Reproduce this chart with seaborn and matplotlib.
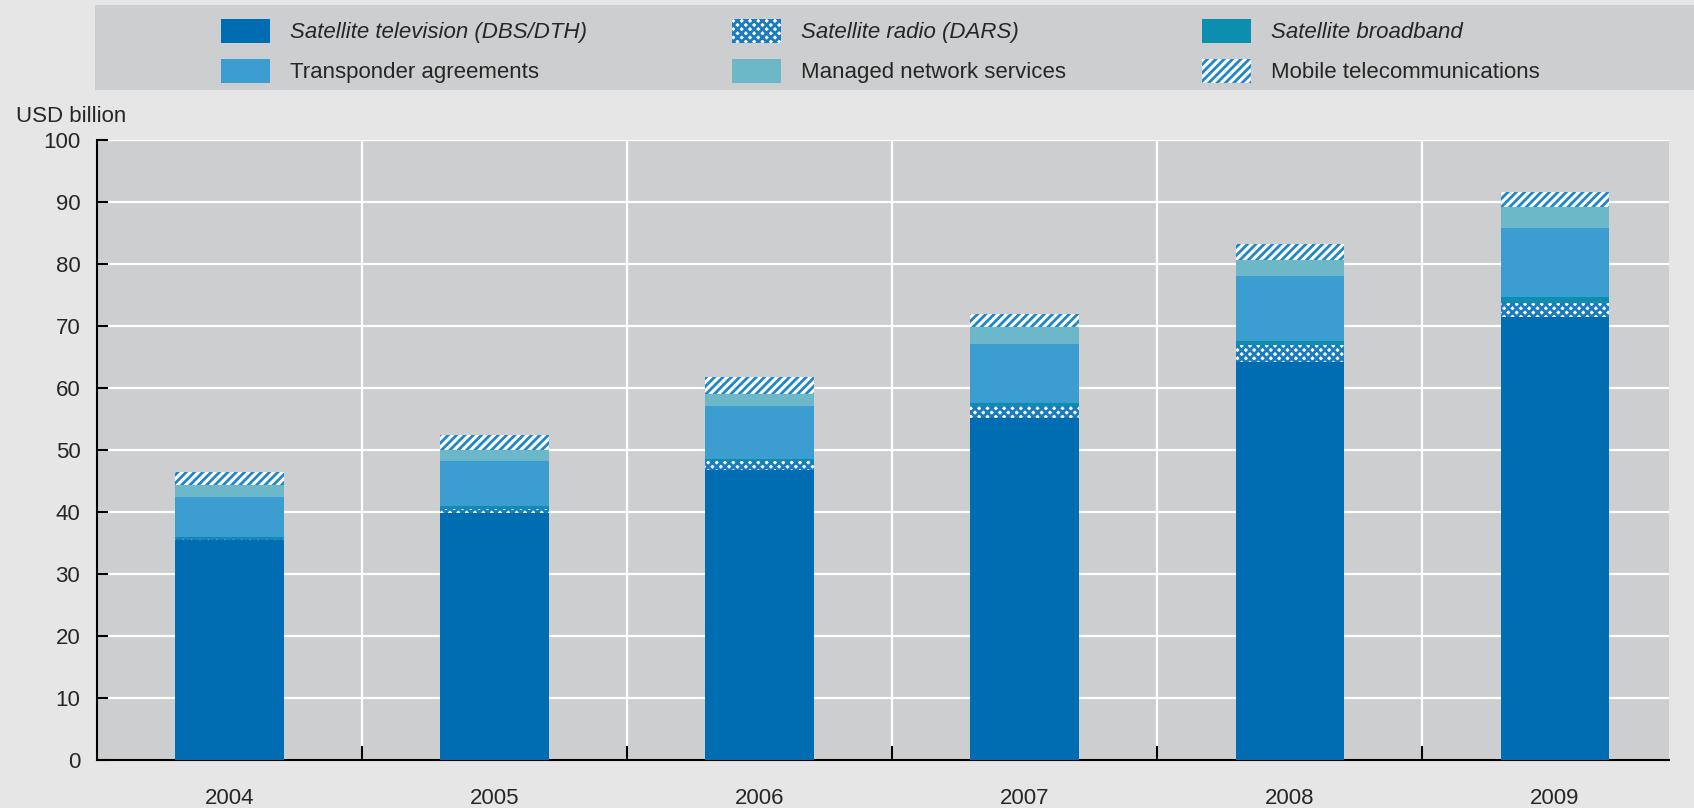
import matplotlib
matplotlib.use("Agg")
import matplotlib.pyplot as plt
from matplotlib.patches import Patch, Rectangle
import numpy as np
import pandas as pd
import seaborn as sns

# data (USD billion)
years = ["2004", "2005", "2006", "2007", "2008", "2009"]
sat_tv = [35.5, 39.8, 46.8, 55.2, 64.2, 71.5]
sat_radio = [0.1, 0.7, 1.5, 1.9, 2.7, 2.2]
sat_broadband = [0.3, 0.5, 0.3, 0.5, 0.7, 1.0]
transponder = [6.5, 7.2, 8.5, 9.5, 10.5, 11.1]
managed = [2.0, 1.8, 1.9, 2.7, 2.6, 3.4]
mobile = [2.1, 2.4, 2.8, 2.2, 2.5, 2.4]

labels = ["Satellite television (DBS/DTH)", "Satellite radio (DARS)", "Satellite broadband",
          "Transponder agreements", "Managed network services", "Mobile telecommunications"]

sns.set_theme(style="white")
plt.rcParams['font.family'] = ['Liberation Sans Narrow', 'Liberation Sans', 'DejaVu Sans']

df = pd.DataFrame({"year": years, "tv": sat_tv, "radio": sat_radio, "bb": sat_broadband,
                   "trans": transponder, "managed": managed, "mobile": mobile})
order = ["tv", "radio", "bb", "trans", "managed", "mobile"]
cum = df[order].cumsum(axis=1)

# style per series: (face, hatch, hatch colour)
styles = {
    "tv": ("#006db3", None, None),
    "radio": ("#ffffff", "xxxx", "#1a7cc0"),
    "bb": ("#0b8eb0", None, None),
    "trans": ("#3b9dd0", None, None),
    "managed": ("#6cb8c8", None, None),
    "mobile": ("#ffffff", "////", "#1f86c8"),
}

plt.rcParams['hatch.linewidth'] = 2.0
FS = 16

fig = plt.figure(figsize=(16.94, 8.08), dpi=100)
fig.patch.set_facecolor("#e6e6e6")
ax = fig.add_axes([97 / 1694, 1 - 760 / 808, (1669 - 97) / 1694, (760 - 140) / 808])
ax.set_facecolor("#cdcecf")

# draw cumulative totals from top to bottom so lower layers cover upper ones
for key in reversed(order):
    face, hatch, hcol = styles[key]
    sns.barplot(x=df["year"], y=cum[key], color=face, saturation=1, width=0.41,
                errorbar=None, ax=ax, hatch=hatch,
                edgecolor=hcol if hatch else face, linewidth=0, zorder=3)

ax.set_ylim(0, 100)
ax.set_yticks(np.arange(0, 101, 10))
ax.set_xlim(-0.5, 5.43)
ax.set_xticks(np.arange(0.5, 5, 1), minor=True)
ax.set_xlabel("")
ax.set_ylabel("")
ax.grid(True, axis="y", color="white", lw=1.6, zorder=0)
ax.grid(True, axis="x", which="minor", color="white", lw=1.6, zorder=0)
ax.set_axisbelow(True)
for s in ["top", "right"]:
    ax.spines[s].set_visible(False)
for s in ["left", "bottom"]:
    ax.spines[s].set_color("black")
    ax.spines[s].set_linewidth(1.5)
ax.tick_params(axis="y", direction="in", length=8, width=1.5, color="black",
               labelsize=FS, pad=12, left=True)
ax.tick_params(axis="x", which="major", length=0, labelsize=FS, pad=20)
ax.tick_params(axis="x", which="minor", direction="in", length=10, width=1.5,
               color="black", bottom=True)

fig.text(16 / 1694, 1 - 116 / 808, "USD billion", fontsize=FS, va="center", ha="left")

# legend background box
fig.patches.append(Rectangle((95 / 1694, 1 - 90 / 808), (1694 - 95) / 1694, 85 / 808,
                             transform=fig.transFigure, facecolor="#cdcecf",
                             edgecolor="none", zorder=0))

handles = []
for key, lab in zip(order, labels):
    face, hatch, hcol = styles[key]
    handles.append(Patch(facecolor=face, hatch=hatch,
                         edgecolor=hcol if hatch else face, linewidth=0, label=lab))

# three legend columns placed separately
cols = [([0, 3], 221), ([1, 4], 732), ([2, 5], 1202)]
for idx, xpix in cols:
    leg = fig.legend([handles[i] for i in idx], [labels[i] for i in idx], ncol=1,
                     loc="center left", bbox_to_anchor=(xpix / 1694, 1 - 51 / 808),
                     frameon=False, fontsize=FS, handlelength=2.2, handleheight=1.3,
                     handletextpad=0.9, labelspacing=0.7, borderpad=0, borderaxespad=0)
    for t in leg.get_texts():
        if t.get_text().startswith("Satellite"):
            t.set_style("italic")

fig.savefig("out.png", dpi=100, facecolor=fig.get_facecolor())
